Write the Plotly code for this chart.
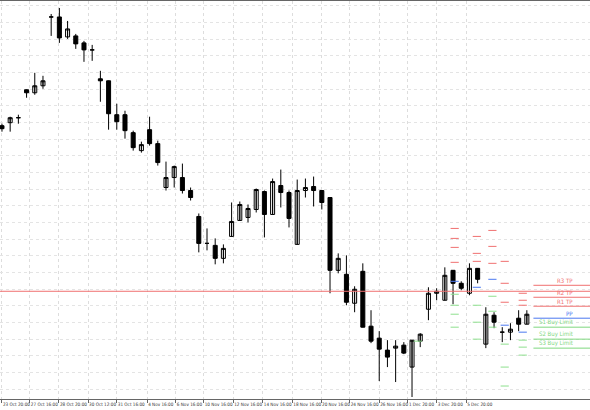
import plotly.graph_objects as go

# candle data, values read as chart y positions (axis reversed, top = high price)
opens = [125, 122, 117, 89, 92, 85, 16, 16, 36, 35, 42, 49, 78, 80, 114, 114,
         132, 150, 129, 143, 187, 177, 177, 190, 216, 243, 245, 258, 236, 220,
         217, 209, 191, 214, 185, 192, 244, 190, 186, 190, 197, 270, 274, 303,
         271, 326, 338, 350, 348, 345, 367, 341, 309, 293, 300, 270, 283, 293,
         268, 344, 315, 332, 332, 318, 324]
closes = [128, 117, 117, 92, 85, 80, 16, 37, 28, 43, 49, 49, 80, 113, 121, 130,
          147, 144, 143, 162, 177, 166, 190, 197, 243, 243, 258, 248, 221, 204,
          208, 189, 214, 181, 192, 218, 190, 187, 190, 202, 270, 258, 302, 289,
          327, 341, 349, 357, 346, 353, 340, 334, 293, 291, 275, 283, 288, 268,
          279, 314, 322, 332, 329, 324, 314]
highs = [123, 116, 114, 89, 72, 75, 13, 7, 20, 33, 40, 44, 70, 80, 103, 110,
         130, 141, 116, 140, 161, 165, 163, 187, 213, 228, 238, 244, 202, 201,
         204, 188, 190, 178, 169, 190, 179, 178, 176, 190, 197, 253, 255, 286,
         263, 310, 331, 340, 340, 342, 340, 333, 287, 288, 267, 270, 281, 263,
         268, 307, 312, 327, 323, 310, 310]
lows = [131, 131, 123, 97, 94, 88, 35, 42, 38, 48, 61, 60, 101, 129, 129, 138,
        150, 152, 145, 165, 190, 187, 193, 200, 252, 250, 264, 263, 236, 220,
        222, 212, 237, 214, 207, 227, 244, 197, 206, 209, 293, 273, 305, 312,
        327, 343, 381, 367, 382, 354, 397, 347, 320, 300, 300, 304, 290, 295,
        283, 348, 328, 342, 340, 331, 324]

tick_pos = [0, 3.4, 6.95, 10.5, 14, 17.7, 21.2, 24.6, 28.2, 31.8, 35.4, 38.9,
            42.4, 46, 49.5, 53, 56.6]
tick_text = ['23 Oct 20:00', '27 Oct 16:00', '28 Oct 20:00', '30 Oct 12:00',
             '31 Oct 16:00', '4 Nov 16:00', '6 Nov 16:00', '10 Nov 16:00',
             '12 Nov 16:00', '14 Nov 16:00', '18 Nov 16:00', '20 Nov 16:00',
             '24 Nov 16:00', '26 Nov 16:00', '1 Dec 20:00', '3 Dec 20:00',
             '5 Dec 20:00']

# daily pivot dashes
piv_x = [55.2, 57.9, 59.8, 61.3, 63.5]
piv_r = [[228, 238, 247, 262], [236, 253, 261], [230, 246, 263],
         [261, 283, 302], [293, 300, 305]]
piv_p = [281, 287, 279, 325, 332]
piv_s = [[294, 305, 314, 327], [305, 322, 339], [296, 311, 327],
         [344, 367, 386], [340, 347, 355]]

# current levels at the right edge
lvl_names = ['R3 TP', 'R2 TP', 'R1 TP', 'PP', 'S1 Buy Limit', 'S2 Buy Limit', 'S3 Buy Limit']
lvl_y = [285, 297, 306, 318, 327, 339, 348]
lvl_col = ['#f07070', '#f07070', '#f07070', '#4a78f0', '#7fd87f', '#7fd87f', '#7fd87f']
bid = 291

RED, BLUE, GREEN = '#f07070', '#4a78f0', '#8ee08e'

fig = go.Figure()
fig.add_candlestick(x=list(range(len(opens))), open=opens, close=closes, high=highs, low=lows,
                    increasing=dict(line=dict(color='black', width=1), fillcolor='black'),
                    decreasing=dict(line=dict(color='black', width=1), fillcolor='white'),
                    whiskerwidth=0, showlegend=False, hoverinfo='skip')


def dashes(xs, ys, color):
    px, py = [], []
    for x, y in zip(xs, ys):
        px += [x - 0.5, x + 0.5, None]
        py += [y, y, None]
    fig.add_scatter(x=px, y=py, mode='lines', line=dict(color=color, width=1),
                    showlegend=False, hoverinfo='skip')


rx, ry, sx, sy = [], [], [], []
for x, rs, ss in zip(piv_x, piv_r, piv_s):
    rx += [x] * len(rs)
    ry += rs
    sx += [x] * len(ss)
    sy += ss
dashes(rx, ry, RED)
dashes(piv_x, piv_p, BLUE)
dashes(sx + [50.7], sy + [341], GREEN)

fig.add_hline(y=bid, line=dict(color='#f07070', width=1))
for name, y, c in zip(lvl_names, lvl_y, lvl_col):
    fig.add_shape(type='line', x0=64.8, x1=72, y0=y, y1=y, line=dict(color=c, width=1))
    fig.add_annotation(x=69.9, y=y, text=name, showarrow=False, xanchor='right',
                       yanchor='bottom', font=dict(size=6, color=c), yshift=-1)

fig.update_layout(
    width=590, height=410, margin=dict(l=0, r=0, t=1, b=11),
    plot_bgcolor='white', paper_bgcolor='white',
    font=dict(family='Liberation Sans Narrow, DejaVu Sans Condensed, sans-serif', size=4.6, color='#333'),
    xaxis=dict(range=[-0.24, 71.7], tickvals=tick_pos, ticktext=tick_text,
               tickangle=0, ticklabelposition='outside right',
               rangeslider=dict(visible=False), showgrid=True, gridcolor='#dddddd',
               griddash='dot', showline=True, linecolor='#666', mirror=True,
               ticks='outside', ticklen=3, tickcolor='#666', zeroline=False),
    yaxis=dict(range=[399, 0], showticklabels=False, dtick=16.7, tick0=5,
               showgrid=True, gridcolor='#e4e4e4', griddash='dot', zeroline=False,
               showline=True, linecolor='#666', mirror=True),
)

fig.write_html("out.html", config=dict(displayModeBar=False),
               post_script="document.body.style.margin='0';")
